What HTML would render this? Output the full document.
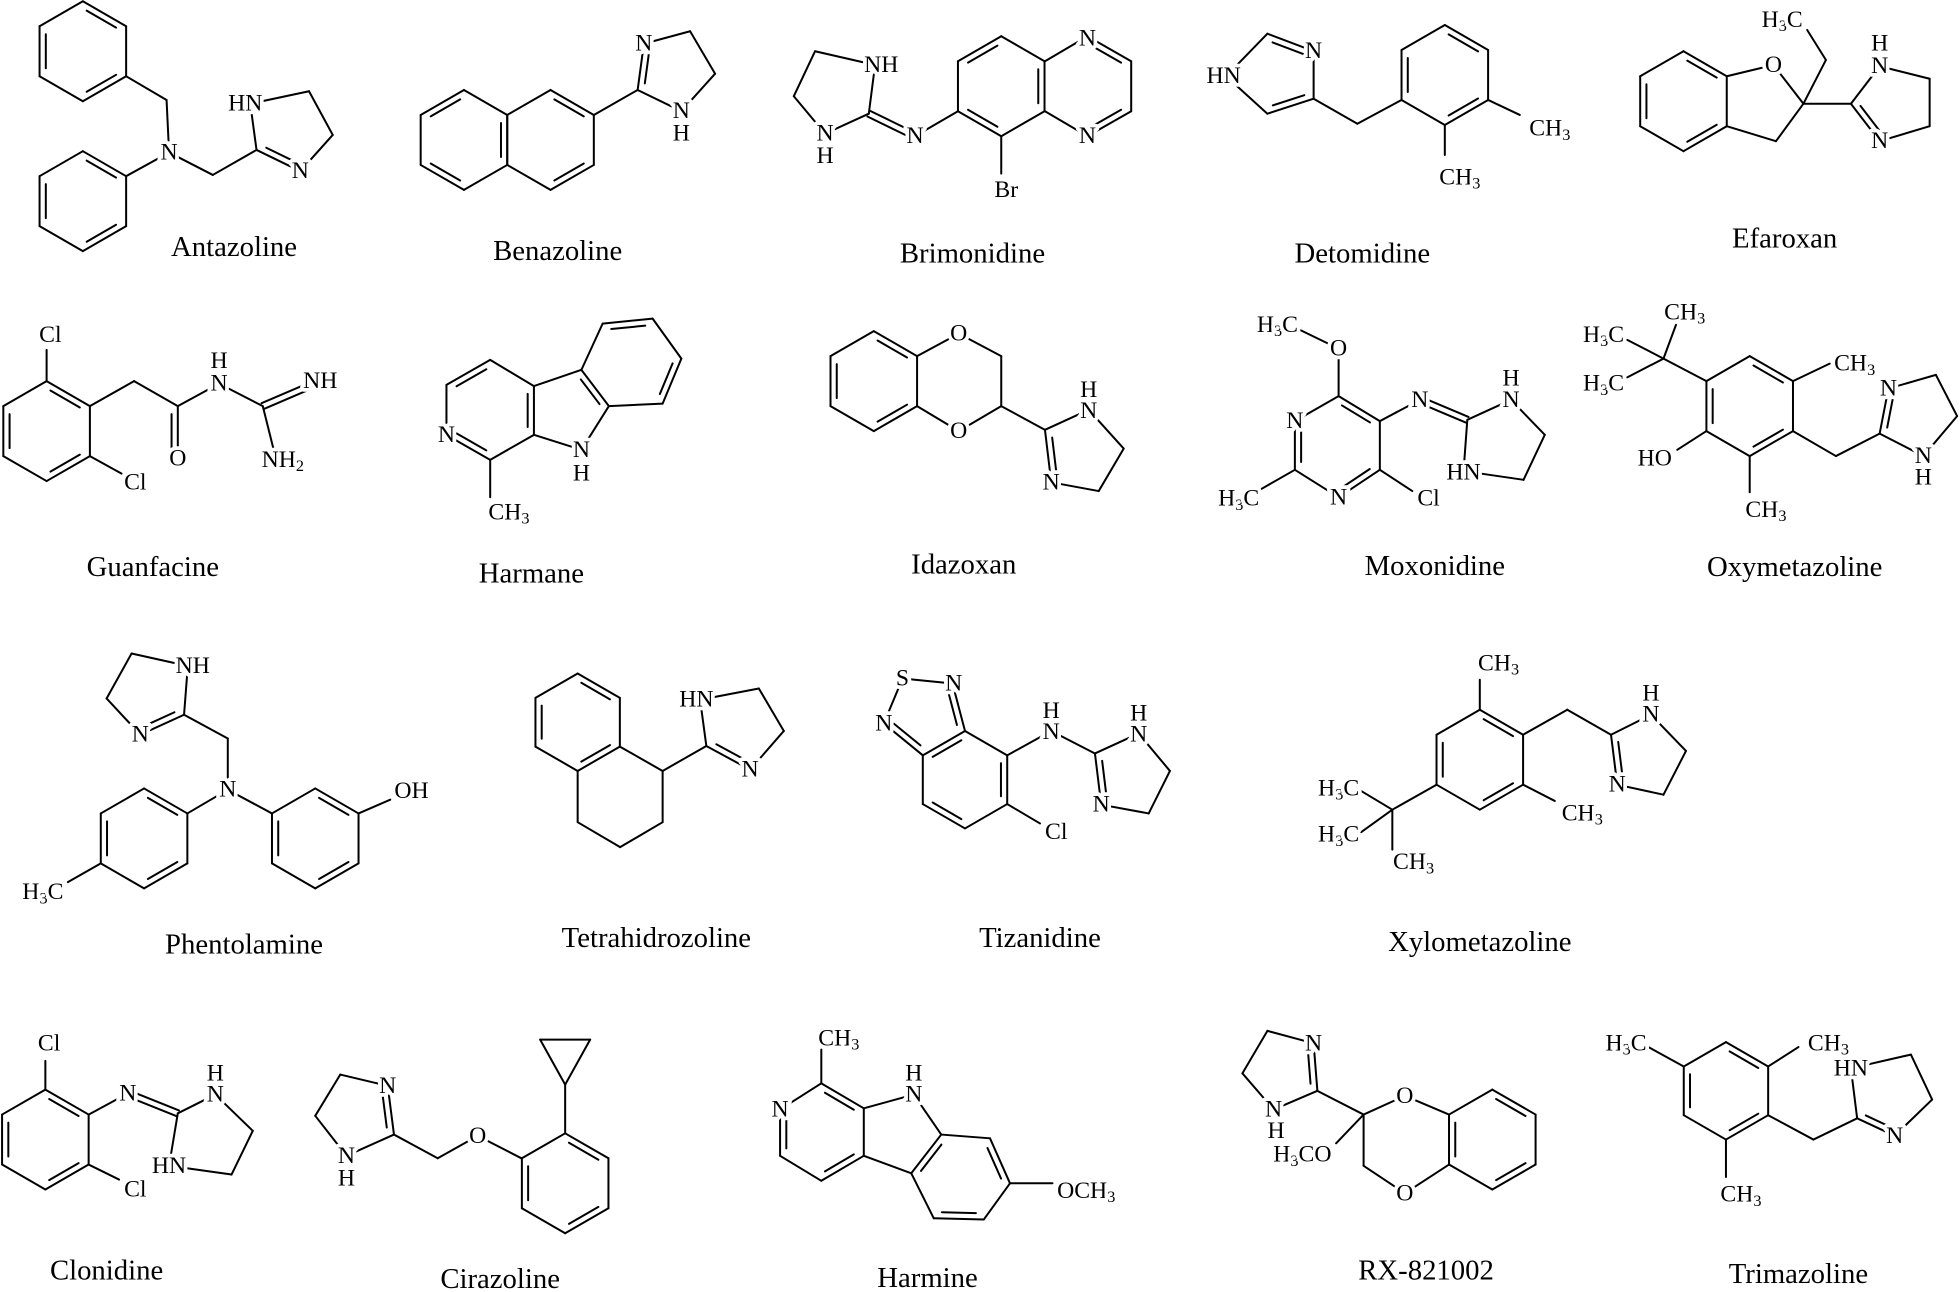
<!DOCTYPE html>
<html><head><meta charset="utf-8">
<style>
html,body{margin:0;padding:0;background:#fff;}
svg{display:block;}
.a{font-family:"Liberation Serif",serif;font-size:19px;text-anchor:middle;dominant-baseline:central;fill:#000;stroke:#fff;stroke-width:6px;paint-order:stroke;stroke-linejoin:round;}
.n{font-family:"Liberation Serif",serif;font-size:23px;text-anchor:middle;fill:#000;}
.w{fill:#fff;stroke:none;}
</style></head>
<body>
<svg id="s" width="1960" height="1292" viewBox="0 0 1568 1034" xmlns="http://www.w3.org/2000/svg">
<rect width="1568" height="1034" fill="#fff"/>
<g id="b" stroke="#000" stroke-width="1.6" fill="none" stroke-linecap="round"></g>
<g>
<circle class="w" cx="1419" cy="52" r="7"/><circle class="w" cx="767" cy="267" r="7"/><circle class="w" cx="767" cy="345" r="7"/>
<circle class="w" cx="1071" cy="279" r="7"/><circle class="w" cx="142" cy="367" r="7"/><circle class="w" cx="382" cy="909" r="7"/>
<circle class="w" cx="1124" cy="877" r="7"/><circle class="w" cx="1124" cy="955" r="7"/>
</g>
<g id="t">
<text class="a" x="135" y="122">N</text>
<text class="a" x="196" y="83">HN</text>
<text class="a" x="240" y="137">N</text>
<text class="n" x="187" y="205">Antazoline</text>
<text class="a" x="515" y="35">N</text>
<text class="a" x="545" y="89">N</text>
<text class="a" x="545" y="107">H</text>
<text class="n" x="446" y="208">Benazoline</text>
<text class="a" x="705" y="52">NH</text>
<text class="a" x="660" y="107">N</text>
<text class="a" x="660" y="125">H</text>
<text class="a" x="732" y="109">N</text>
<text class="a" x="870" y="31">N</text>
<text class="a" x="870" y="109">N</text>
<text class="a" x="805" y="152">Br</text>
<text class="n" x="778" y="210">Brimonidine</text>
<text class="a" x="979" y="61">HN</text>
<text class="a" x="1051" y="41">N</text>
<text class="a" x="1240" y="103">CH<tspan dy="5" font-size="13">3</tspan></text>
<text class="a" x="1168" y="142">CH<tspan dy="5" font-size="13">3</tspan></text>
<text class="n" x="1090" y="210">Detomidine</text>
<text class="a" x="1426" y="16">H<tspan dy="5" font-size="13">3</tspan><tspan dy="-5">C</tspan></text>
<text class="a" x="1419" y="52">O</text>
<text class="a" x="1504" y="35">H</text>
<text class="a" x="1504" y="53">N</text>
<text class="a" x="1504" y="113">N</text>
<text class="n" x="1428" y="198">Efaroxan</text>
<text class="a" x="40" y="268">Cl</text>
<text class="a" x="108" y="386">Cl</text>
<text class="a" x="142" y="367">O</text>
<text class="a" x="175" y="289">H</text>
<text class="a" x="175" y="307">N</text>
<text class="a" x="256" y="305">NH</text>
<text class="a" x="226" y="368">NH<tspan dy="5" font-size="13">2</tspan></text>
<text class="n" x="122" y="461">Guanfacine</text>
<text class="a" x="357" y="348">N</text>
<text class="a" x="465" y="360">N</text>
<text class="a" x="465" y="379">H</text>
<text class="a" x="407" y="410">CH<tspan dy="5" font-size="13">3</tspan></text>
<text class="n" x="425" y="466">Harmane</text>
<text class="a" x="767" y="267">O</text>
<text class="a" x="767" y="345">O</text>
<text class="a" x="871" y="312">H</text>
<text class="a" x="871" y="329">N</text>
<text class="a" x="841" y="386">N</text>
<text class="n" x="771" y="459">Idazoxan</text>
<text class="a" x="1022" y="260">H<tspan dy="5" font-size="13">3</tspan><tspan dy="-5">C</tspan></text>
<text class="a" x="1071" y="279">O</text>
<text class="a" x="1036" y="337">N</text>
<text class="a" x="1071" y="398">N</text>
<text class="a" x="991" y="399">H<tspan dy="5" font-size="13">3</tspan><tspan dy="-5">C</tspan></text>
<text class="a" x="1143" y="399">Cl</text>
<text class="a" x="1136" y="320">N</text>
<text class="a" x="1209" y="303">H</text>
<text class="a" x="1209" y="320">N</text>
<text class="a" x="1171" y="378">HN</text>
<text class="n" x="1148" y="460">Moxonidine</text>
<text class="a" x="1348" y="250">CH<tspan dy="5" font-size="13">3</tspan></text>
<text class="a" x="1283" y="268">H<tspan dy="5" font-size="13">3</tspan><tspan dy="-5">C</tspan></text>
<text class="a" x="1283" y="307">H<tspan dy="5" font-size="13">3</tspan><tspan dy="-5">C</tspan></text>
<text class="a" x="1484" y="291">CH<tspan dy="5" font-size="13">3</tspan></text>
<text class="a" x="1413" y="408">CH<tspan dy="5" font-size="13">3</tspan></text>
<text class="a" x="1324" y="367">HO</text>
<text class="a" x="1511" y="311">N</text>
<text class="a" x="1539" y="365">N</text>
<text class="a" x="1539" y="382">H</text>
<text class="n" x="1436" y="461">Oxymetazoline</text>
<text class="a" x="154" y="533">NH</text>
<text class="a" x="112" y="588">N</text>
<text class="a" x="182" y="632">N</text>
<text class="a" x="329" y="633">OH</text>
<text class="a" x="34" y="714">H<tspan dy="5" font-size="13">3</tspan><tspan dy="-5">C</tspan></text>
<text class="n" x="195" y="763">Phentolamine</text>
<text class="a" x="557" y="560">HN</text>
<text class="a" x="600" y="616">N</text>
<text class="n" x="525" y="758">Tetrahidrozoline</text>
<text class="a" x="722" y="543">S</text>
<text class="a" x="763" y="547">N</text>
<text class="a" x="707" y="579">N</text>
<text class="a" x="841" y="569">H</text>
<text class="a" x="841" y="586">N</text>
<text class="a" x="911" y="571">H</text>
<text class="a" x="911" y="588">N</text>
<text class="a" x="881" y="644">N</text>
<text class="a" x="845" y="666">Cl</text>
<text class="n" x="832" y="758">Tizanidine</text>
<text class="a" x="1199" y="531">CH<tspan dy="5" font-size="13">3</tspan></text>
<text class="a" x="1266" y="651">CH<tspan dy="5" font-size="13">3</tspan></text>
<text class="a" x="1071" y="631">H<tspan dy="5" font-size="13">3</tspan><tspan dy="-5">C</tspan></text>
<text class="a" x="1071" y="668">H<tspan dy="5" font-size="13">3</tspan><tspan dy="-5">C</tspan></text>
<text class="a" x="1131" y="690">CH<tspan dy="5" font-size="13">3</tspan></text>
<text class="a" x="1321" y="555">H</text>
<text class="a" x="1321" y="572">N</text>
<text class="a" x="1294" y="628">N</text>
<text class="n" x="1184" y="761">Xylometazoline</text>
<text class="a" x="39" y="835">Cl</text>
<text class="a" x="108" y="952">Cl</text>
<text class="a" x="102" y="875">N</text>
<text class="a" x="172" y="859">H</text>
<text class="a" x="172" y="876">N</text>
<text class="a" x="135" y="933">HN</text>
<text class="n" x="85" y="1024">Clonidine</text>
<text class="a" x="310" y="869">N</text>
<text class="a" x="277" y="925">N</text>
<text class="a" x="277" y="943">H</text>
<text class="a" x="382" y="909">O</text>
<text class="n" x="400" y="1031">Cirazoline</text>
<text class="a" x="671" y="831">CH<tspan dy="5" font-size="13">3</tspan></text>
<text class="a" x="624" y="888">N</text>
<text class="a" x="731" y="859">H</text>
<text class="a" x="731" y="876">N</text>
<text class="a" x="869" y="953">OCH<tspan dy="5" font-size="13">3</tspan></text>
<text class="n" x="742" y="1030">Harmine</text>
<text class="a" x="1051" y="835">N</text>
<text class="a" x="1019" y="888">N</text>
<text class="a" x="1021" y="905">H</text>
<text class="a" x="1042" y="924">H<tspan dy="5" font-size="13">3</tspan><tspan dy="-5">CO</tspan></text>
<text class="a" x="1124" y="877">O</text>
<text class="a" x="1124" y="955">O</text>
<text class="n" x="1141" y="1024">RX-821002</text>
<text class="a" x="1301" y="835">H<tspan dy="5" font-size="13">3</tspan><tspan dy="-5">C</tspan></text>
<text class="a" x="1463" y="835">CH<tspan dy="5" font-size="13">3</tspan></text>
<text class="a" x="1393" y="956">CH<tspan dy="5" font-size="13">3</tspan></text>
<text class="a" x="1481" y="855">HN</text>
<text class="a" x="1516" y="909">N</text>
<text class="n" x="1439" y="1027">Trimazoline</text>
</g>
</svg>
<script>
(function(){
var S=[];
function L(a,b){S.push('<line x1="'+a[0]+'" y1="'+a[1]+'" x2="'+b[0]+'" y2="'+b[1]+'"/>');}
function inner(a,b,c){
  var dx=b[0]-a[0],dy=b[1]-a[1],len=Math.hypot(dx,dy);
  var nx=-dy/len,ny=dx/len;
  var mx=(a[0]+b[0])/2,my=(a[1]+b[1])/2;
  if((c[0]-mx)*nx+(c[1]-my)*ny<0){nx=-nx;ny=-ny;}
  var o=5;
  var p=[a[0]+dx*0.16+nx*o,a[1]+dy*0.16+ny*o],q=[a[0]+dx*0.84+nx*o,a[1]+dy*0.84+ny*o];
  L(p,q);
}
function D(a,b,c){L(a,b);inner(a,b,c);}
function E(a,b){var dx=b[0]-a[0],dy=b[1]-a[1],len=Math.hypot(dx,dy);var nx=-dy/len*2.5,ny=dx/len*2.5;
  L([a[0]+nx,a[1]+ny],[b[0]+nx,b[1]+ny]);L([a[0]-nx,a[1]-ny],[b[0]-nx,b[1]-ny]);}
function ring(p,dbl){var n=p.length,cx=0,cy=0;for(var i=0;i<n;i++){cx+=p[i][0];cy+=p[i][1];}cx/=n;cy/=n;
  for(var i=0;i<n;i++){var a=p[i],b=p[(i+1)%n];if(dbl.indexOf(i)>=0)D(a,b,[cx,cy]);else L(a,b);}}
function hx(cx,cy,r){var h=0.866*r;return [[cx,cy-r],[cx+h,cy-r/2],[cx+h,cy+r/2],[cx,cy+r],[cx-h,cy+r/2],[cx-h,cy-r/2]];}
function chain(){for(var i=0;i<arguments.length-1;i++)L(arguments[i],arguments[i+1]);}
var h,h2;
h=hx(66,41,40);ring(h,[0,2,4]);
h2=hx(66,161,40);ring(h2,[0,2,4]);
chain(h[2],[133,80],[135,122]);chain(h2[1],[135,122],[170,140],[205,120]);
chain([205,120],[200,83],[247,73],[266,108],[240,137]);D([240,137],[205,120],[232,105]);
h=hx(371,112,40);ring(h,[5,3]);D(h[1],h[2],[330,112]);
h2=hx(440.3,112,40);chain(h2[0],h2[1],h2[2],h2[3]);L(h2[0],h[1]);L(h2[3],h[2]);
inner(h2[0],h2[1],[440,112]);inner(h2[2],h2[3],[440,112]);
L(h2[1],[510,72]);D([510,72],[515,35],[540,60]);chain([515,35],[552,25],[572,59],[545,89],[510,72]);
chain([700,52],[652,41],[635,77],[660,107],[695,91],[700,52]);E([695,91],[732,109]);
h=hx(801,69,40);ring(h,[5,1,3]);L([732,109],h[4]);
h2=[[836,49],[870,29],[905,49],[905,89],[870,109],[836,89]];
chain(h2[0],h2[1]);D(h2[1],h2[2],[870,69]);L(h2[2],h2[3]);D(h2[3],h2[4],[870,69]);L(h2[4],h2[5]);
L(h[3],[801,139]);
var im=[[981,61],[1014,27],[1051,41],[1051,79],[1014,91]];
L(im[0],im[1]);D(im[1],im[2],[1022,60]);L(im[2],im[3]);D(im[3],im[4],[1022,60]);L(im[4],im[0]);
h=hx(1156,60,40);ring(h,[0,2,4]);chain(im[3],[1086,99],h[4]);
L(h[2],[1216,92]);L(h[3],[1156,124]);
h=hx(1347,81,40);ring(h,[0,2,4]);
chain(h[1],[1419,52],[1443,83],[1421,113],h[2]);chain([1443,83],[1461,48],[1446,24]);
L([1443,83],[1481,83]);chain([1481,83],[1504,53],[1544,63],[1544,101],[1504,113]);D([1504,113],[1481,83],[1520,83]);
h=hx(37,345,40);ring(h,[0,2,4]);
L(h[0],[37,280]);L(h[2],[97,379]);
chain(h[1],[107,305],[142,325]);D([142,325],[142,365],[125,345]);L([142,325],[175,307]);
chain([175,307],[210,325]);E([210,325],[252,307]);L([210,325],[220,365]);
var py=[[357,348],[392,368],[427,348],[427,309],[392,288],[357,308]];
ring(py,[0,2,4]);
chain(py[2],[465,360],[487,325]);D([487,325],[465,296],[455,330]);L([465,296],py[3]);
var bz=[[465,296],[482,259],[522,255],[545,287],[530,323],[487,325]];
chain(bz[0],bz[1]);D(bz[1],bz[2],[505,290]);L(bz[2],bz[3]);D(bz[3],bz[4],[505,290]);L(bz[4],bz[5]);
L(py[1],[392,398]);
h=hx(699,305,40);ring(h,[0,2,4]);
chain(h[1],[767,267],[801,285],[801,325],[767,345],h[2]);
L([801,325],[836,344]);chain([836,344],[871,328],[899,359],[879,393],[841,386]);D([841,386],[836,344],[868,360]);
chain([1040,264],[1071,279],[1071,317]);
var mx=[[1071,317],[1036,337],[1036,376],[1071,398],[1104,376],[1104,337]];
ring(mx,[1,3,5]);
L(mx[2],[1008,392]);L(mx[4],[1130,393]);L(mx[5],[1136,320]);
E([1136,320],[1174,336]);chain([1174,336],[1209,320],[1236,348],[1219,384],[1171,377],[1174,336]);
h=hx(1400,325,40);ring(h,[0,2,4]);
L(h[5],[1331,287]);L([1331,287],[1341,260]);L([1331,287],[1302,272]);L([1331,287],[1302,302]);
L(h[1],[1464,291]);L(h[3],[1400,394]);L(h[4],[1342,360]);
chain(h[2],[1469,365],[1504,347]);D([1504,347],[1511,311],[1535,335]);
chain([1511,311],[1549,300],[1566,333],[1539,365],[1504,347]);
chain([150,533],[105,523],[85,559],[112,588]);L([150,533],[147,572]);D([147,572],[112,588],[120,555]);
chain([147,572],[182,591],[182,632]);
h=hx(115,671,40);ring(h,[0,2,4]);h2=hx(252,671,40);ring(h2,[0,2,4]);
L([182,632],h[1]);L([182,632],h2[5]);L(h[4],[54,706]);L(h2[1],[312,640]);
h=hx(462,578,39);ring(h,[0,2,4]);
chain(h[2],[530,617],[530,658],[496,678],[462,658],h[3]);
L([530,617],[565,597]);chain([565,597],[560,560],[607,551],[627,585],[600,616]);D([600,616],[565,597],[590,585]);
h=hx(772,624,39);ring(h,[1,3,5]);
D(h[5],[707,579],[735,575]);chain([707,579],[722,543],[762,547]);D([762,547],h[0],[735,575]);
L(h[1],[841,585]);chain([841,585],[876,603],[911,587],[936,617],[919,651],[881,644]);D([881,644],[876,603],[905,620]);
L(h[2],[832,659]);
h=hx(1184,608,40);ring(h,[0,2,4]);
L(h[0],[1184,544]);L(h[2],[1244,641]);
chain(h[1],[1254,568],[1289,588]);chain([1289,588],[1321,572],[1349,601],[1331,636],[1294,628]);D([1294,628],[1289,588],[1318,605]);
L(h[4],[1114,648]);L([1114,648],[1089,633]);L([1114,648],[1089,666]);L([1114,648],[1114,680]);
h=hx(36,912,40);ring(h,[0,2,4]);
L(h[0],[36,849]);L(h[2],[95,944]);L(h[1],[102,875]);E([102,875],[142,891]);
chain([142,891],[172,876],[202,905],[185,940],[135,933],[142,891]);
chain([277,925],[252,893],[272,860],[310,869]);D([310,869],[315,908],[290,895]);L([315,908],[277,925]);
chain([315,908],[350,927],[382,909],[417,927]);
h=hx(452,947,40);ring(h,[0,2,4]);
L(h[0],[452,868]);chain([452,868],[432,832],[472,832],[452,868]);
var hp=[[657,867],[624,888],[624,925],[657,945],[691,925],[691,887]];
ring(hp,[1,3,5]);L(hp[0],[657,840]);
chain(hp[5],[731,876],[753,908]);
var hb=[[753,908],[792,911],[808,947],[787,976],[747,975],[729,939]];
ring(hb,[1,3,5]);L(hb[5],hp[4]);
L(hb[2],[842,947]);
D([1054,873],[1051,835],[1030,860]);chain([1051,835],[1014,825],[994,859],[1019,888],[1054,873]);
L([1054,873],[1091,892]);
h=hx(1194,912,40);ring(h,[0,2,4]);
chain([1091,892],[1124,877],h[5]);chain(h[4],[1124,955],[1091,933],[1091,892]);L([1091,892],[1069,915]);
h=hx(1381,873,39);ring(h,[0,2,4]);
L(h[5],[1319,838]);L(h[1],[1439,838]);L(h[3],[1381,942]);
chain(h[2],[1451,912],[1486,895]);D([1486,895],[1516,909],[1510,880]);
chain([1516,909],[1546,880],[1529,844],[1481,855],[1486,895]);
document.getElementById('b').innerHTML=S.join('');
})();
</script>
</body></html>
